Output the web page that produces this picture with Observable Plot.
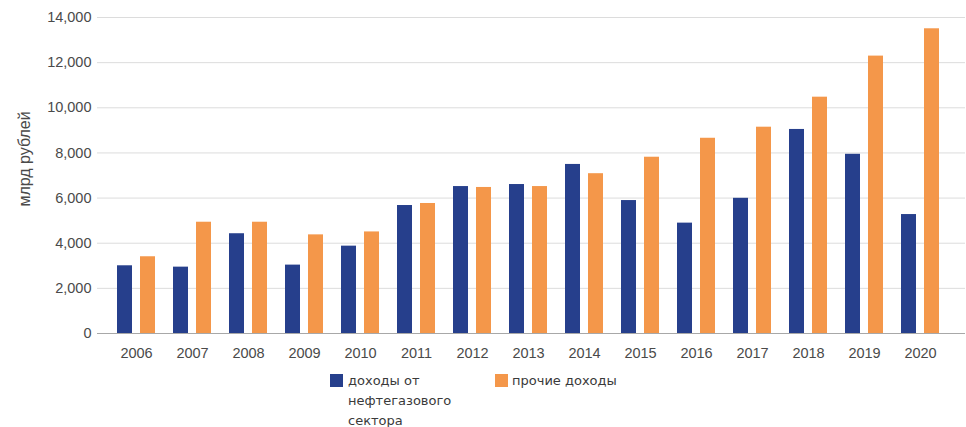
<!DOCTYPE html>
<html><head><meta charset="utf-8">
<script src="https://cdn.jsdelivr.net/npm/d3@7"></script>
<script src="https://cdn.jsdelivr.net/npm/@observablehq/plot@0.6"></script>
<style>
body{margin:0;background:#fff;}
#wrap{position:relative;width:966px;height:427px;overflow:hidden;}
.leg{position:absolute;font-family:"DejaVu Sans",sans-serif;font-size:13px;color:#3a3a3a;line-height:20px;}
.sw{position:absolute;width:13px;height:13px;}
</style></head><body><div id="wrap"></div>
<script>
const years = [2006,2007,2008,2009,2010,2011,2012,2013,2014,2015,2016,2017,2018,2019,2020];
const oilGas = [3000,2940,4420,3030,3870,5670,6510,6600,7490,5890,4890,5990,9040,7940,5270];
const other  = [3400,4930,4930,4370,4500,5760,6470,6510,7080,7810,8650,9140,10470,12290,13500];
const seriesNames = ["доходы от нефтегазового сектора","прочие доходы"];
const colors = ["#263f8c","#f4974a"];
const yTicks = [0,2000,4000,6000,8000,10000,12000,14000];
const yLabel = "млрд рублей";

const rows1 = years.map((y,i)=>({year:String(y), value:oilGas[i]}));
const rows2 = years.map((y,i)=>({year:String(y), value:other[i]}));

const chart = Plot.plot({
  width:966, height:363, marginLeft:97, marginRight:1, marginTop:17, marginBottom:30,
  style:{fontFamily:"'Liberation Sans', Arial, sans-serif", fontSize:"14.5px", color:"#4a4a4a", background:"white"},
  x:{domain: years.map(String), paddingInner:0, paddingOuter:0.15, align:0.38, label:null, tickSize:0, tickPadding:14},
  y:{domain:[0,14000], ticks:yTicks, tickFormat:d3.format(","), label:null, tickSize:0, tickPadding:6},
  marks:[
    Plot.ruleY(yTicks.filter(t=>t>0), {stroke:"#dcdcdc"}),
    Plot.barY(rows1,{x:"year", y:"value", fill:colors[0], insetLeft:9, insetRight:32}),
    Plot.barY(rows2,{x:"year", y:"value", fill:colors[1], insetLeft:32, insetRight:9}),
    Plot.ruleY([0],{stroke:"#a8a8a8"})
  ]
});
const wrap = document.getElementById("wrap");
wrap.appendChild(chart);
d3.select(chart).append("text")
  .attr("transform","translate(30,159) rotate(-90)")
  .attr("text-anchor","middle")
  .attr("fill","#4a4a4a")
  .style("font-size","16px")
  .text(yLabel);

function legendItem(i, swLeft, txtLeft, w){
  const s = document.createElement("div");
  s.className="sw"; s.style.left=swLeft+"px"; s.style.top="374px"; s.style.background=colors[i];
  wrap.appendChild(s);
  const t = document.createElement("div");
  t.className="leg"; t.style.left=txtLeft+"px"; t.style.top="371px"; t.style.width=w+"px";
  t.textContent = seriesNames[i];
  wrap.appendChild(t);
}
legendItem(0, 330, 348, 115);
legendItem(1, 495, 512, 200);
</script></body></html>
